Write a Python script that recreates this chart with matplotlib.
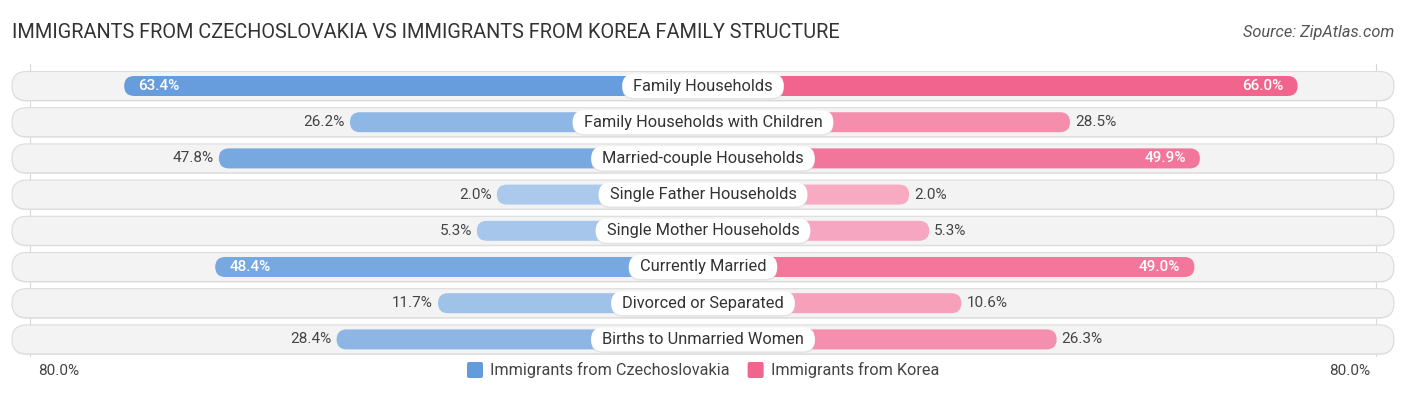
import matplotlib
matplotlib.use("Agg")
import numpy as np
import matplotlib.pyplot as plt
from matplotlib.patches import FancyBboxPatch

plt.rcParams['font.family'] = ['Roboto', 'DejaVu Sans']

title = "IMMIGRANTS FROM CZECHOSLOVAKIA VS IMMIGRANTS FROM KOREA FAMILY STRUCTURE"
source = "Source: ZipAtlas.com"
categories = [
    "Family Households",
    "Family Households with Children",
    "Married-couple Households",
    "Single Father Households",
    "Single Mother Households",
    "Currently Married",
    "Divorced or Separated",
    "Births to Unmarried Women",
]
czech = [63.4, 26.2, 47.8, 2.0, 5.3, 48.4, 11.7, 28.4]
korea = [66.0, 28.5, 49.9, 2.0, 5.3, 49.0, 10.6, 26.3]
series_names = ["Immigrants from Czechoslovakia", "Immigrants from Korea"]
axis_max_label = "80.0%"

# layout in pixels
W, H = 1406, 395
cx = 703
gap = 194       # bars start this far from the centre
scale = 6.07    # px per percent
row0, row_step = 86, 36.2
bar_h = 20
bg_h = 29

blue_dark = np.array([100, 155, 220]) / 255
blue_light = np.array([172, 202, 236]) / 255
pink_dark = np.array([240, 100, 141]) / 255
pink_light = np.array([248, 172, 197]) / 255
vmax = max(max(czech), max(korea))


def shade(dark, light, v):
    t = min(v / vmax, 1.0)
    return tuple(light + (dark - light) * t)


fig = plt.figure(figsize=(W / 100, H / 100), dpi=100)
ax = fig.add_axes([0, 0, 1, 1])
ax.set_xlim(0, W)
ax.set_ylim(H, 0)
ax.axis('off')

fig.text(12 / W, 1 - 33 / H, title, fontsize=14.3, color='#333333',
         ha='left', va='center')
fig.text(1394 / W, 1 - 33 / H, source, fontsize=11.8, color='#555555',
         ha='right', va='center', style='italic')

# faint guide lines
for gx in (30, 1376):
    ax.plot([gx, gx], [64, 356], color='#d8d8d8', lw=0.8, zorder=0)

fig.canvas.draw()
renderer = fig.canvas.get_renderer()

for i, cat in enumerate(categories):
    y = row0 + i * row_step
    # background pill with soft shadow
    ax.add_patch(FancyBboxPatch((12, y - bg_h / 2 + 1), 1382, bg_h,
                                boxstyle=f"round,pad=0,rounding_size={bg_h/2}",
                                fc='#e4e4e4', ec='none', zorder=1))
    ax.add_patch(FancyBboxPatch((12, y - bg_h / 2), 1382, bg_h,
                                boxstyle=f"round,pad=0,rounding_size={bg_h/2}",
                                fc='#f3f3f3', ec='#dcdcdc', lw=0.8, zorder=1))

    vl, vr = czech[i], korea[i]
    left_end = cx - gap - vl * scale
    right_end = cx + gap + vr * scale
    ax.add_patch(FancyBboxPatch((left_end, y - bar_h / 2), cx - left_end, bar_h,
                                boxstyle=f"round,pad=0,rounding_size={bar_h/2}",
                                fc=shade(blue_dark, blue_light, vl), ec='none', zorder=2))
    ax.add_patch(FancyBboxPatch((cx, y - bar_h / 2), right_end - cx, bar_h,
                                boxstyle=f"round,pad=0,rounding_size={bar_h/2}",
                                fc=shade(pink_dark, pink_light, vr), ec='none', zorder=2))

    # value labels
    if vl >= 48:
        ax.text(left_end + 14, y, f"{vl:.1f}%", color='white', fontsize=11,
                ha='left', va='center', zorder=4, fontweight='medium')
    else:
        ax.text(left_end - 5, y, f"{vl:.1f}%", color='#444444', fontsize=11,
                ha='right', va='center', zorder=4)
    if vr >= 48:
        ax.text(right_end - 14, y, f"{vr:.1f}%", color='white', fontsize=11,
                ha='right', va='center', zorder=4, fontweight='medium')
    else:
        ax.text(right_end + 5, y, f"{vr:.1f}%", color='#444444', fontsize=11,
                ha='left', va='center', zorder=4)

    # centre label
    t = ax.text(cx, y, cat, fontsize=11.8, color='#333333', ha='center',
                va='center', zorder=6)
    tw = t.get_window_extent(renderer).width
    lw_box = tw + 22
    lh = 24
    ax.add_patch(FancyBboxPatch((cx - lw_box / 2, y - lh / 2 + 1.5), lw_box, lh,
                                boxstyle=f"round,pad=0,rounding_size={lh/2}",
                                fc='#d9d9d9', ec='none', alpha=0.6, zorder=4))
    ax.add_patch(FancyBboxPatch((cx - lw_box / 2, y - lh / 2), lw_box, lh,
                                boxstyle=f"round,pad=0,rounding_size={lh/2}",
                                fc='white', ec='none', zorder=5))

# axis labels
ax.text(38, 371, axis_max_label, fontsize=11, color='#444444', ha='left', va='center')
ax.text(1370, 371, axis_max_label, fontsize=11, color='#444444', ha='right', va='center')

# legend
leg_fs = 11.7
t1 = ax.text(0, 0, series_names[0], fontsize=leg_fs)
t2 = ax.text(0, 0, series_names[1], fontsize=leg_fs)
w1 = t1.get_window_extent(renderer).width
w2 = t2.get_window_extent(renderer).width
t1.remove()
t2.remove()
sq, sgap, tgap = 16, 7, 18
total = sq + sgap + w1 + tgap + sq + sgap + w2
x0 = cx - total / 2
ly = 370
ax.add_patch(FancyBboxPatch((x0, ly - sq / 2), sq, sq,
                            boxstyle="round,pad=0,rounding_size=2",
                            fc=tuple(blue_dark), ec='none'))
ax.text(x0 + sq + sgap, ly, series_names[0], fontsize=leg_fs, color='#444444',
        ha='left', va='center')
x1 = x0 + sq + sgap + w1 + tgap
ax.add_patch(FancyBboxPatch((x1, ly - sq / 2), sq, sq,
                            boxstyle="round,pad=0,rounding_size=2",
                            fc=tuple(pink_dark), ec='none'))
ax.text(x1 + sq + sgap, ly, series_names[1], fontsize=leg_fs, color='#444444',
        ha='left', va='center')

fig.savefig("out.png", dpi=100)
